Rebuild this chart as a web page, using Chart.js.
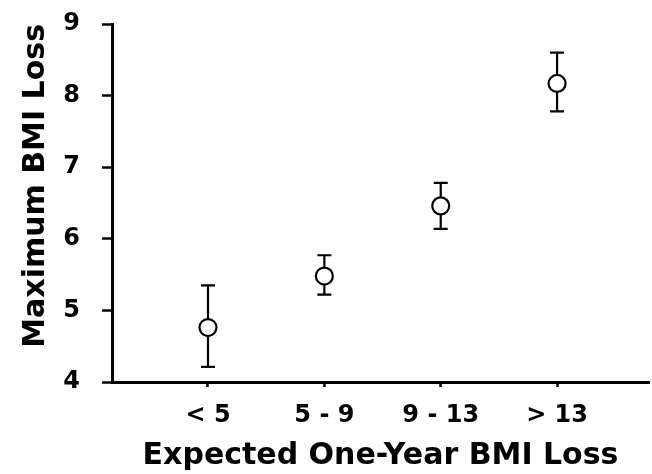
<!DOCTYPE html>
<html>
<head>
<meta charset="utf-8">
<script src="https://cdn.jsdelivr.net/npm/chart.js@4"></script>
<style>
  html, body { margin: 0; padding: 0; background: #fff; }
  #wrap { width: 652px; height: 474px; }
</style>
</head>
<body>
<div id="wrap"><canvas id="bmiChart"></canvas></div>
<script>
const categories = ['< 5', '5 - 9', '9 - 13', '> 13'];
const meanLoss = [4.76, 5.48, 6.46, 8.17];
const upperLoss = [5.35, 5.77, 6.78, 8.60];
const lowerLoss = [4.21, 5.22, 6.14, 7.78];
const yTicks = [4, 5, 6, 7, 8, 9];

const font = 'DejaVu Sans';

// draws the error bars under the circles
const errorBars = {
  id: 'errorBars',
  beforeDatasetsDraw(chart) {
    const ctx = chart.ctx;
    const x = chart.scales.x;
    const y = chart.scales.y;
    ctx.save();
    ctx.strokeStyle = '#000';
    ctx.lineWidth = 2.2;
    meanLoss.forEach((m, i) => {
      const px = x.getPixelForValue(i + 1);
      const top = y.getPixelForValue(upperLoss[i]);
      const bot = y.getPixelForValue(lowerLoss[i]);
      ctx.beginPath();
      ctx.moveTo(px, top);
      ctx.lineTo(px, bot);
      ctx.moveTo(px - 7, top);
      ctx.lineTo(px + 7, top);
      ctx.moveTo(px - 7, bot);
      ctx.lineTo(px + 7, bot);
      ctx.stroke();
    });
    ctx.restore();
  }
};

const ctx = document.getElementById('bmiChart').getContext('2d');
const bmiChart = new Chart(ctx, {
  type: 'scatter',
  data: {
    datasets: [{
      data: meanLoss.map((v, i) => ({ x: i + 1, y: v })),
      pointRadius: 8.5,
      pointBorderWidth: 2.2,
      pointBorderColor: '#000',
      pointBackgroundColor: '#fff',
      showLine: false
    }]
  },
  options: {
    responsive: true,
    maintainAspectRatio: false,
    animation: false,
    events: [],
    layout: { autoPadding: false, padding: { top: 24, right: 3, left: 0, bottom: 0 } },
    plugins: {
      legend: { display: false },
      tooltip: { enabled: false }
    },
    scales: {
      x: {
        type: 'linear',
        min: 0.175,
        max: 4.79,
        afterBuildTicks: (scale) => { scale.ticks = [1, 2, 3, 4].map(v => ({ value: v })); },
        afterFit: (scale) => { scale.height = 92; scale.paddingLeft = 0; scale.paddingRight = 0; },
        border: { display: true, color: '#000', width: 3 },
        grid: { drawOnChartArea: false, drawTicks: true, tickLength: 5, color: '#000', tickWidth: 2.5 },
        ticks: {
          color: '#000',
          padding: 14,
          font: { family: font, size: 24, weight: 'bold' },
          callback: (v) => categories[v - 1]
        },
        title: {
          display: true,
          text: 'Expected One-Year BMI Loss',
          color: '#000',
          font: { family: font, size: 30, weight: 'bold' },
          padding: { top: 5, bottom: 0 }
        }
      },
      y: {
        min: 4,
        max: 9,
        afterBuildTicks: (scale) => { scale.ticks = yTicks.map(v => ({ value: v })); },
        afterFit: (scale) => { scale.width = 112; scale.paddingTop = 0; scale.paddingBottom = 0; },
        border: { display: true, color: '#000', width: 3 },
        grid: { drawOnChartArea: false, drawTicks: true, tickLength: 10, color: '#000', tickWidth: 2.5 },
        ticks: {
          color: '#000',
          padding: 22,
          font: { family: font, size: 24, weight: 'bold' }
        },
        title: {
          display: true,
          text: 'Maximum BMI Loss',
          align: 'end',
          color: '#000',
          font: { family: font, size: 30, weight: 'bold' },
          padding: { top: 18, bottom: 0 }
        }
      }
    }
  },
  plugins: [errorBars]
});
</script>
</body>
</html>
